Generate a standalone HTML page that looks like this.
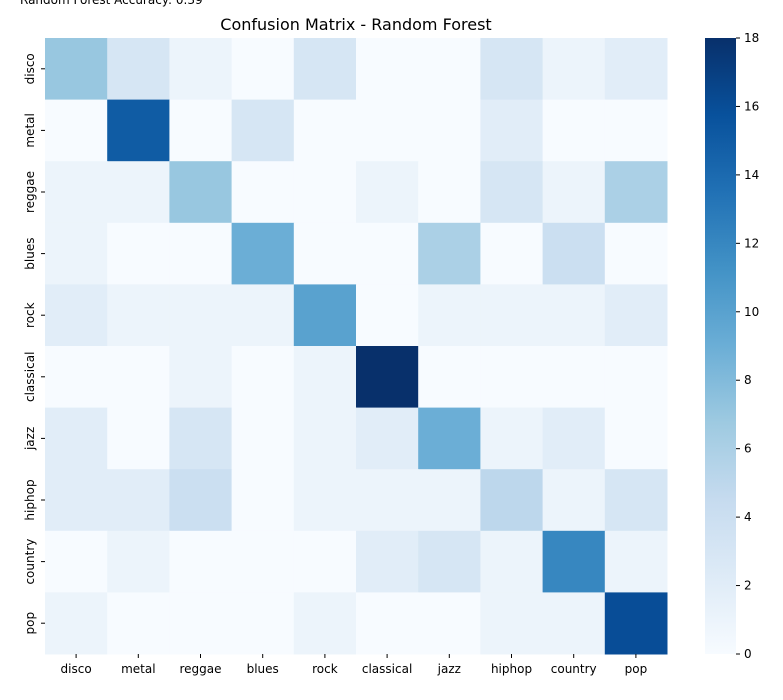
<!DOCTYPE html>
<html><head><meta charset="utf-8"><style>
body{margin:0;background:#fff;width:783px;height:696px;overflow:hidden;font-family:"DejaVu Sans","Liberation Sans",sans-serif;}
</style></head><body>
<svg id="chart" width="783" height="696" xmlns="http://www.w3.org/2000/svg">
<text x="20" y="4" font-size="12" fill="#000">Random Forest Accuracy: 0.39</text>
<text x="356" y="30" font-size="16" text-anchor="middle">Confusion Matrix - Random Forest</text>
<g id="cells"></g><g id="xt"></g><g id="yt"></g>
<defs><linearGradient id="cb" x1="0" y1="1" x2="0" y2="0">
<stop offset="0" stop-color="#f7fbff"/><stop offset="0.125" stop-color="#deebf7"/><stop offset="0.25" stop-color="#c6dbef"/><stop offset="0.375" stop-color="#9ecae1"/><stop offset="0.5" stop-color="#6baed6"/><stop offset="0.625" stop-color="#4292c6"/><stop offset="0.75" stop-color="#2171b5"/><stop offset="0.875" stop-color="#08519c"/><stop offset="1" stop-color="#08306b"/></linearGradient></defs>
<rect x="705" y="38" width="31" height="616" fill="url(#cb)"/>
<g id="cbt"></g>
</svg>
<script>
const labels=["disco","metal","reggae","blues","rock","classical","jazz","hiphop","country","pop"];
const row0=[7,3,1,0,3,0,0,3,1,2];
const row1=[0,15,0,3,0,0,0,2,0,0];
const row2=[1,1,7,0,0,1,0,3,1,6];
const row3=[1,0,0,9,0,0,6,0,4,0];
const row4=[2,1,1,1,10,0,1,1,1,2];
const row5=[0,0,1,0,1,18,0,0,0,0];
const row6=[2,0,3,0,1,2,9,1,2,0];
const row7=[2,2,4,0,1,1,1,5,1,3];
const row8=[0,1,0,0,0,2,3,1,12,1];
const row9=[1,0,0,0,1,0,0,1,1,16];
const matrix=[row0,row1,row2,row3,row4,row5,row6,row7,row8,row9];
const cbTicks=[0,2,4,6,8,10,12,14,16,18];
const vmax=18;
const X0=45,X1=667,Y0=38,Y1=654;
const cw=(X1-X0)/labels.length, ch=(Y1-Y0)/labels.length;
const xs=i=>X0+i*cw, ys=i=>Y0+i*ch;
const stops=[[247,251,255],[222,235,247],[198,219,239],[158,202,225],[107,174,214],[66,146,198],[33,113,181],[8,81,156],[8,48,107]];
function color(v){let t=Math.max(0,Math.min(1,v/vmax))*(stops.length-1);let i=Math.min(Math.floor(t),stops.length-2);let f=t-i;
const c=stops[i].map((a,k)=>Math.round(a+(stops[i+1][k]-a)*f));return `rgb(${c})`;}
const NS="http://www.w3.org/2000/svg";
const cells=document.getElementById('cells');
matrix.forEach((r,ri)=>r.forEach((v,ci)=>{const e=document.createElementNS(NS,'rect');
e.setAttribute('x',xs(ci));e.setAttribute('y',ys(ri));e.setAttribute('width',cw+0.5);e.setAttribute('height',ch+0.5);e.setAttribute('fill',color(v));


cells.appendChild(e);}));
const xt=document.getElementById('xt'),yt=document.getElementById('yt');
labels.forEach((l,i)=>{const t=document.createElementNS(NS,'text');t.setAttribute('x',xs(i)+cw/2);t.setAttribute('y',Y1+19);t.setAttribute('text-anchor','middle');t.setAttribute('font-size','12');t.textContent=l;


xt.appendChild(t);
const ln=document.createElementNS(NS,'line');ln.setAttribute('x1',xs(i)+cw/2);ln.setAttribute('x2',xs(i)+cw/2);ln.setAttribute('y1',Y1);ln.setAttribute('y2',Y1+4);ln.setAttribute('stroke','#000');xt.appendChild(ln);
const y=document.createElementNS(NS,'text');const cy=ys(i)+ch/2;y.setAttribute('transform',`translate(34,${cy}) rotate(-90)`);y.setAttribute('text-anchor','middle');y.setAttribute('font-size','12');y.textContent=l;


yt.appendChild(y);
const l2=document.createElementNS(NS,'line');l2.setAttribute('x1',X0-4);l2.setAttribute('x2',X0);l2.setAttribute('y1',cy);l2.setAttribute('y2',cy);l2.setAttribute('stroke','#000');yt.appendChild(l2);});
const cbt=document.getElementById('cbt');
cbTicks.forEach(v=>{const y=Y1-(v/vmax)*(Y1-Y0);const t=document.createElementNS(NS,'text');t.setAttribute('x',744);t.setAttribute('y',y+4);t.setAttribute('font-size','12');t.textContent=v;


cbt.appendChild(t);
const ln=document.createElementNS(NS,'line');ln.setAttribute('x1',736);ln.setAttribute('x2',740);ln.setAttribute('y1',y);ln.setAttribute('y2',y);ln.setAttribute('stroke','#000');cbt.appendChild(ln);});
</script>
</body></html>
